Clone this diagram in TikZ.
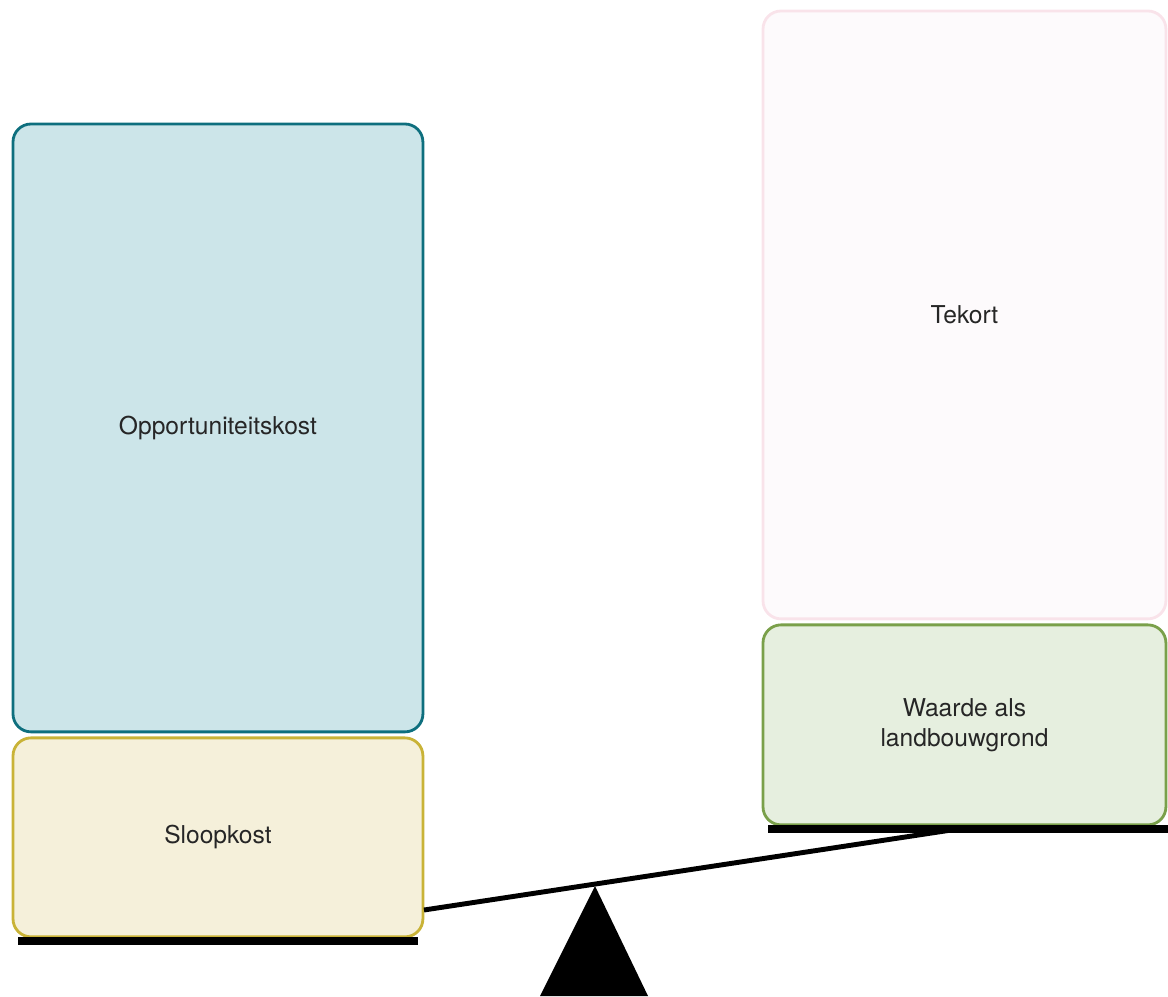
\documentclass[tikz,border=0pt]{standalone}
\usepackage{fontspec}
\setmainfont{TeX Gyre Heros}
\usetikzlibrary{positioning}
\definecolor{oppline}{HTML}{0E6F7E}
\definecolor{oppfill}{HTML}{CCE5E9}
\definecolor{sloline}{HTML}{C9B337}
\definecolor{slofill}{HTML}{F5F0DA}
\definecolor{waline}{HTML}{7AA04A}
\definecolor{wafill}{HTML}{E6EFDF}
\definecolor{tekline}{HTML}{F9E3EA}
\definecolor{tekfill}{HTML}{FDFAFC}

\begin{document}
\begin{tikzpicture}[
x=0.02cm, y=-0.02cm,
font=\fontsize{14}{17}\selectfont,
block/.style={rectangle,rounded corners=0.36cm,line width=1.6pt,outer sep=0pt,
  minimum width=8.2cm,align=center,text=black!85},
oppbox/.style={block,draw=oppline,fill=oppfill,minimum height=12.16cm},
slobox/.style={block,draw=sloline,fill=slofill,minimum height=3.98cm},
tekbox/.style={block,draw=tekline,fill=tekfill,minimum width=8.06cm,minimum height=12.16cm},
wabox/.style={block,draw=waline,fill=wafill,minimum width=8.06cm,minimum height=4cm},
bar/.style={line width=4pt},
lever/.style={line width=2.8pt}
]
\useasboundingbox (0,0) rectangle (1168,996);

% left pan
\node[oppbox, anchor=north west] (opp) at (13,124) {Opportuniteitskost};
\node[slobox, below=0.12cm of opp] (slo) {Sloopkost};
\draw[bar] (18,941) -- (418,941);

% right pan
\node[tekbox, anchor=north west] (tek) at (763,11) {Tekort};
\node[wabox, below=0.12cm of tek] (wa) {Waarde als\\landbouwgrond};
\draw[bar] (768,829) -- (1168,829);

% beam and pivot
\coordinate (lend) at (424,910);
\coordinate (rend) at (958,829);
\coordinate (pivot) at (595,886);
\draw[lever] (lend) -- (rend);
\fill (pivot) -- (540,996) -- (648,996) -- cycle;
\end{tikzpicture}
\end{document}
